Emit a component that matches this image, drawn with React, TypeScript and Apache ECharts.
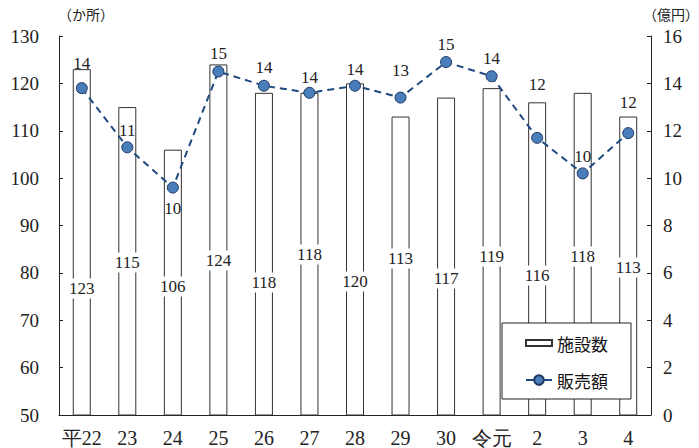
import React, { useEffect, useRef } from "react";
import * as echarts from "echarts";

const categories = ["平22", "23", "24", "25", "26", "27", "28", "29", "30", "令元", "2", "3", "4"];
const facilities = [123, 115, 106, 124, 118, 118, 120, 113, 117, 119, 116, 118, 113];
const sales = [13.8, 11.3, 9.6, 14.5, 13.9, 13.6, 13.9, 13.4, 14.9, 14.3, 11.7, 10.2, 11.9];
const leftTicks = { min: 50, max: 130, interval: 10 };
const rightTicks = { min: 0, max: 16, interval: 2 };
const unitLeft = "（か所）";
const unitRight = "（億円）";
const seriesNames = ["施設数", "販売額"];

// label placement (style only)
const barLabelLift = [127, 153, 129, 155, 133, 161, 134, 157, 137, 159, 140, 159, 148];
const lineLabelLift = [25, 17, -21, 18, 18, 15, 16, 27, 18, 18, 53, 17, 31];

const SERIF = "Liberation Serif";
const SANS = "Noto Sans CJK JP";

export default function App() {
  const ref = useRef<HTMLDivElement>(null);
  useEffect(() => {
    if (!ref.current) return;
    const chart = echarts.init(ref.current, null, { renderer: "svg" });
    const barH = 20;
    chart.setOption({
      animation: false,
      backgroundColor: "#fff",
      grid: { left: 59, right: 48, top: 36, bottom: 32 },
      xAxis: {
        type: "category",
        data: categories,
        axisLine: { lineStyle: { color: "#222", width: 1 } },
        axisTick: { inside: true, length: 6, lineStyle: { color: "#222" } },
        axisLabel: { interval: 0, fontFamily: SERIF, fontSize: 20, color: "#222", margin: 13 },
      },
      yAxis: [
        {
          type: "value",
          ...leftTicks,
          axisLine: { show: true, lineStyle: { color: "#222" } },
          axisTick: { show: true, inside: true, length: 4, lineStyle: { color: "#222" } },
          axisLabel: { fontFamily: SERIF, fontSize: 19, color: "#222", margin: 20 },
          splitLine: { show: false },
        },
        {
          type: "value",
          ...rightTicks,
          position: "right",
          axisLine: { show: true, lineStyle: { color: "#222" } },
          axisTick: { show: true, inside: true, length: 4, lineStyle: { color: "#222" } },
          axisLabel: { fontFamily: SERIF, fontSize: 19, color: "#222", margin: 12 },
          splitLine: { show: false },
        },
      ],
      legend: {
        left: 502,
        top: 323,
        orient: "vertical",
        backgroundColor: "#fff",
        borderColor: "#222",
        borderWidth: 1,
        padding: [10, 23, 9, 23],
        itemGap: 17,
        itemWidth: 26,
        itemHeight: 12,
        textStyle: { fontFamily: SANS, fontSize: 17, color: "#111", lineHeight: 20 },
        lineStyle: { type: "solid", width: 2 },
        data: [{ name: seriesNames[0], icon: "path://M0,0H26V6H0Z" }, { name: seriesNames[1] }],
      },
      graphic: [
        { type: "text", left: 58, top: 7, style: { text: unitLeft, fontFamily: SANS, fontSize: 14, fill: "#222" } },
        { type: "text", right: 0, top: 7, style: { text: unitRight, fontFamily: SANS, fontSize: 14, fill: "#222" } },
      ],
      series: [
        {
          name: seriesNames[0],
          type: "bar",
          yAxisIndex: 0,
          barWidth: 18,
          itemStyle: { color: "#fff", borderColor: "#333", borderWidth: 1 },
          data: facilities.map((v, i) => ({ value: v, label: { offset: [0, -(barLabelLift[i] - barH / 2)] } })),
          label: {
            show: true,
            position: "insideBottom",
            distance: 0,
            fontFamily: SERIF,
            fontSize: 17,
            lineHeight: 18,
            color: "#222",
            backgroundColor: "#fff",
            padding: [1, 1],
          },
          z: 2,
        },
        {
          name: seriesNames[1],
          type: "line",
          yAxisIndex: 1,
          symbol: "circle",
          symbolSize: 11,
          lineStyle: { color: "#1f4a80", width: 2, type: [7, 5] },
          itemStyle: { color: "#4a7ebb", borderColor: "#1f3864", borderWidth: 1 },
          data: sales.map((v, i) => ({ value: v, label: { offset: [0, -lineLabelLift[i]] } })),
          label: {
            show: true,
            position: "inside",
            fontFamily: SERIF,
            fontSize: 17,
            color: "#222",
            formatter: (p: any) => String(Math.round(p.value)),
          },
          z: 3,
        },
      ],
    });
    return () => chart.dispose();
  }, []);
  return <div ref={ref} style={{ position: "fixed", left: 0, top: 0, width: 699, height: 448, background: "#fff" }} />;
}
